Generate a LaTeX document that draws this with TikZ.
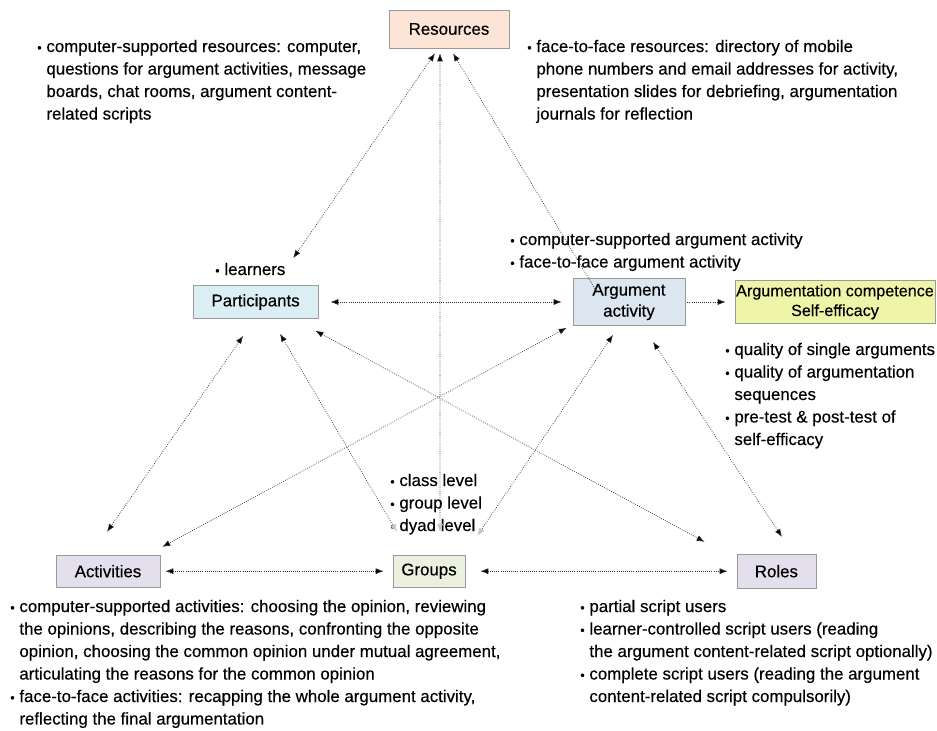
\documentclass[tikz,border=0pt]{standalone}
\usepackage{fontspec}
\setmainfont{Liberation Sans}[FakeBold=0.4]
\usepackage{tikz}
\usetikzlibrary{arrows.meta}
\usepackage{xcolor}

\definecolor{resfill}{HTML}{FCE4D6}
\definecolor{parfill}{HTML}{DAEEF3}
\definecolor{argfill}{HTML}{DCE6F1}
\definecolor{outfill}{HTML}{EEF5A9}
\definecolor{actfill}{HTML}{E4DFEC}
\definecolor{grpfill}{HTML}{EBF1DE}
\definecolor{boxline}{HTML}{9A9A9A}
\definecolor{linkgray}{HTML}{2A2A2A}
\newcommand{\bul}{\makebox[6.5pt][l]{\small\textbullet}}

\begin{document}
\begin{tikzpicture}[>={Latex[length=2mm,width=1.5mm]}, font=\fontsize{12}{16}\selectfont]
				\tikzstyle{box} = [draw=boxline, rectangle, inner sep=0pt, align=center]
				\tikzstyle{txt} = [draw=none, anchor=north west, inner sep=0pt, align=left]
				\tikzstyle{link} = [draw=linkgray, line width=0.5pt, densely dotted]
				\tikzstyle{togrp} = [{Latex[length=2mm,width=1.5mm]}-{Latex[length=2mm,width=1.5mm,color=gray!45]}]
				
				\useasboundingbox (0,0) rectangle (23.425,-18.275);
				
				\node[box, fill=resfill, minimum width=3cm, minimum height=0.95cm]		at (11.225,-0.725)	(res)	{Resources};
				\node[box, fill=parfill, minimum width=3.125cm, minimum height=0.825cm]	at (6.39,-7.55)		(par)	{Participants};
				\node[box, fill=argfill, minimum width=2.8cm, minimum height=1.175cm]	at (15.725,-7.55)	(arg)	{Argument\\[-1pt]activity};
				\node[box, fill=outfill, minimum width=5cm, minimum height=1.075cm, font=\fontsize{11.5}{14}\selectfont]	at (20.875,-7.55)	(out)	{Argumentation competence\\Self-efficacy};
				\node[box, fill=actfill, minimum width=2.6cm, minimum height=0.8cm]		at (2.7,-14.28)		(act)	{Activities};
				\node[box, fill=grpfill, minimum width=1.8cm, minimum height=0.8cm]		at (10.725,-14.28)	(grp)	{Groups};
				\node[box, fill=actfill, minimum width=1.975cm, minimum height=0.85cm]	at (19.41,-14.28)	(rol)	{Roles};
				
				% bullet texts
				\node[txt] at (0.925,-0.9) (restxta) {\begin{tabular}{@{}l@{}l@{}}\bul & computer-supported resources: computer,\\ & questions for argument activities, message\\ & boards, chat rooms, argument content-\\ & related scripts\end{tabular}};
				\node[txt] at (13.175,-0.9) (restxtb) {\begin{tabular}{@{}l@{}l@{}}\bul & face-to-face resources: directory of mobile\\ & phone numbers and email addresses for activity,\\ & presentation slides for debriefing, argumentation\\ & journals for reflection\end{tabular}};
				\node[txt] at (5.375,-6.475) (partxt) {\begin{tabular}{@{}l@{}l@{}}\bul & learners\end{tabular}};
				\node[txt] at (12.75,-5.725) (argtxt) {\begin{tabular}{@{}l@{}l@{}}\bul & computer-supported argument activity\\ \bul & face-to-face argument activity\end{tabular}};
				\node[txt] at (18.125,-8.475) (outtxt) {\begin{tabular}{@{}l@{}l@{}}\bul & quality of single arguments\\ \bul & quality of argumentation\\ & sequences\\ \bul & pre-test \& post-test of\\ & self-efficacy\end{tabular}};
				\node[txt] at (9.75,-11.75) (grptxt) {\begin{tabular}{@{}l@{}l@{}}\bul & class level\\ \bul & group level\\ \bul & dyad level\end{tabular}};
				\node[txt] at (0.25,-14.9) (acttxt) {\begin{tabular}{@{}l@{}l@{}}\bul & computer-supported activities: choosing the opinion, reviewing\\ & the opinions, describing the reasons, confronting the opposite\\ & opinion, choosing the common opinion under mutual agreement,\\ & articulating the reasons for the common opinion\\ \bul & face-to-face activities: recapping the whole argument activity,\\ & reflecting the final argumentation\end{tabular}};
				\node[txt] at (14.5,-14.9) (roltxt) {\begin{tabular}{@{}l@{}l@{}}\bul & partial script users\\ \bul & learner-controlled script users (reading\\ & the argument content-related script optionally)\\ \bul & complete script users (reading the argument\\ & content-related script compulsorily)\end{tabular}};
				
				\path[link]
				([shift={(-0.35,-0.125)}]res.south)		edge [<->]		([shift={(0.94,0.675)}]par.north)
				([shift={(-0.225,-0.125)}]res.south)	edge [togrp]	([shift={(0.275,0.575)}]grp.north)
				([shift={(-0.8,-0.35)}]arg.north)		edge [->]		([shift={(0.1,-0.125)}]res.south)
				([xshift=0.3cm]par.east)				edge [<->]		([xshift=-0.275cm]arg.west)
				([xshift=0.05cm]arg.east)				edge [->]		([xshift=-0.225cm]out.west)
				([shift={(-0.31,-0.425)}]par.south)		edge [<->]		([shift={(-0.025,0.575)}]act.north)
				([shift={(0.61,-0.375)}]par.south)		edge [togrp]	([shift={(-0.8,0.575)}]grp.north)
				([shift={(-0.075,-0.3)}]par.south east)	edge [<->]		([shift={(-0.8,0.3)}]rol.north west)
				([shift={(-0.15,-0.05)}]arg.south west)	edge [<->]		([shift={(0.05,0.2)}]act.north east)
				([shift={(-0.4,-0.225)}]arg.south)		edge [togrp]	([shift={(0.3,0.475)}]grp.north east)
				([shift={(0.6,-0.4)}]arg.south)			edge [<->]		([shift={(0.14,0.425)}]rol.north)
				([xshift=0.125cm]act.east)				edge [<->]		([xshift=-0.225cm]grp.west)
				([xshift=0.375cm]grp.east)				edge [<->]		([xshift=-0.225cm]rol.west);
			\end{tikzpicture}
\end{document}
